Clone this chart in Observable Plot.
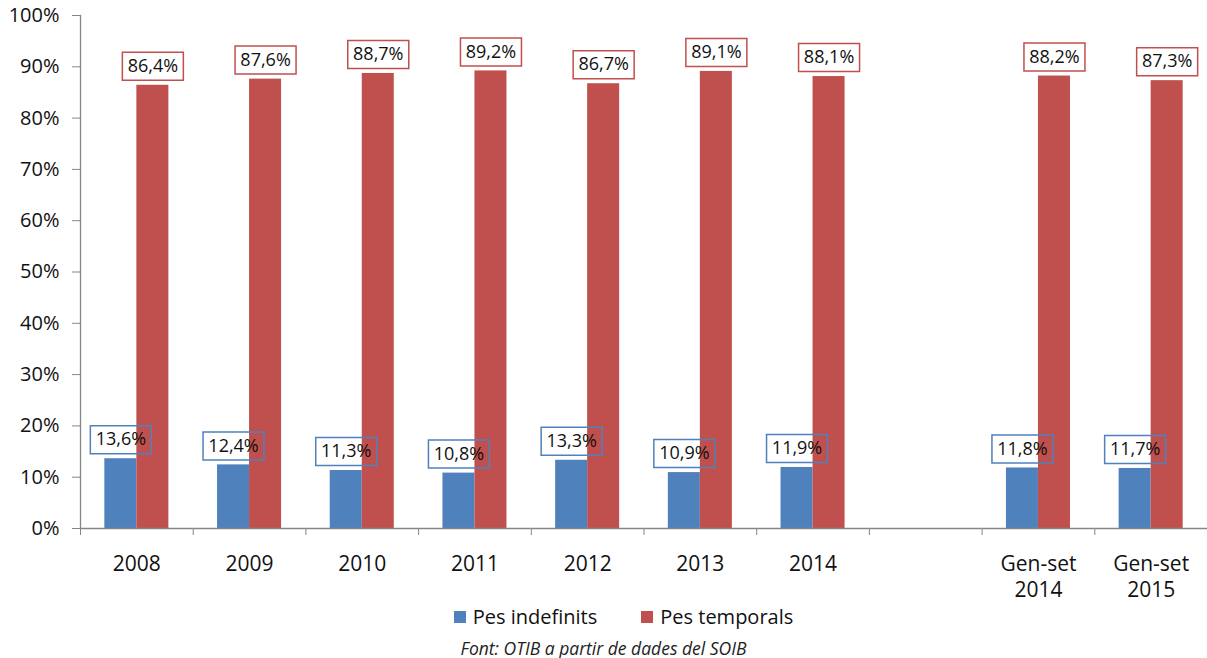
<!DOCTYPE html>
<html>
<head>
<meta charset="utf-8">
<script src="https://cdn.jsdelivr.net/npm/d3@7"></script>
<script src="https://cdn.jsdelivr.net/npm/@observablehq/plot@0.6"></script>
<style>
  body { margin: 0; background: #fff; font-family: "Open Sans", sans-serif; }
  #legend { margin-top: 0px; height: 22px; line-height: 22px; display: flex; justify-content: center; padding-left: 40px; font-size: 20px; color: #111; }
  #legend .item { display: flex; align-items: center; margin: 0 22px; }
  #legend .sw { width: 12px; height: 12px; margin-right: 7px; }
  #caption { margin-top: 9px; height: 22px; line-height: 22px; text-align: center; font-style: italic; font-size: 17.5px; color: #222; }
</style>
</head>
<body>
<div id="chart"></div>
<div id="legend"></div>
<div id="caption">Font: OTIB a partir de dades del SOIB</div>
<script>
const categories = ["2008", "2009", "2010", "2011", "2012", "2013", "2014", " ", "Gen-set\n2014", "Gen-set\n2015"];
const series = ["Pes indefinits", "Pes temporals"];
const indefinits = [13.6, 12.4, 11.3, 10.8, 13.3, 10.9, 11.9, NaN, 11.8, 11.7];
const temporals = [86.4, 87.6, 88.7, 89.2, 86.7, 89.1, 88.1, NaN, 88.2, 87.3];
const yTicks = [0, 10, 20, 30, 40, 50, 60, 70, 80, 90, 100];
const colors = ["#4F81BD", "#C0504D"];

// the blank category keeps NaN rows so that its facet is not treated as empty
const rows = [];
categories.forEach((c, i) => {
  rows.push({cat: c, serie: series[0], value: indefinits[i]});
  rows.push({cat: c, serie: series[1], value: temporals[i]});
});
const fmt = v => (isFinite(v) ? v.toFixed(1).replace(".", ",") + "%" : "");

const W = 1207, H = 606, mL = 80, mR = 0, mT = 15, mB = 78;
const step = (W - mL - mR) / categories.length;

const boxSymbol = {
  draw(ctx) {
    ctx.moveTo(-30.5, -14); ctx.lineTo(30.5, -14); ctx.lineTo(30.5, 14); ctx.lineTo(-30.5, 14); ctx.closePath();
  }
};

const chart = Plot.plot({
  width: W, height: H,
  marginLeft: mL, marginRight: mR, marginTop: mT, marginBottom: mB,
  style: {fontFamily: "Open Sans", background: "#fff", color: "#111", overflow: "visible"},
  fx: {domain: categories, padding: 0, round: false, axis: null, label: null},
  x: {domain: series, paddingInner: 0, paddingOuter: 0.76, round: false, axis: null},
  y: {domain: [0, 100], axis: null, label: null},
  color: {domain: series, range: colors},
  marks: [
    Plot.barY(rows, {fx: "cat", x: "serie", y: "value", fill: "serie"}),
    Plot.ruleY([0], {stroke: "#868686", strokeWidth: 1.3}),
    Plot.frame({anchor: "left", facetAnchor: "left", stroke: "#868686", strokeWidth: 1.3}),
    Plot.axisY({ticks: yTicks, tickFormat: d => d + "%", tickSize: 8, tickPadding: 13, fontSize: 20, stroke: "#868686", fill: "#111", label: null}),
    Plot.axisFx({anchor: "bottom", tickSize: 0, tickPadding: 24, fontSize: 21, lineHeight: 1.25, fill: "#111", label: null}),
    Plot.axisFx({anchor: "bottom", tickSize: 7, tickFormat: () => "", dx: -step / 2, stroke: "#868686", label: null}),
    Plot.dot(rows, {fx: "cat", x: "serie", y: "value", dy: -19, r: 1, symbol: boxSymbol, stroke: "serie", fill: "none", strokeWidth: 1.5}),
    Plot.text(rows, {fx: "cat", x: "serie", y: "value", dy: -19, text: d => fmt(d.value), fontSize: 18, fill: "#111", lineAnchor: "middle"})
  ]
});
document.getElementById("chart").appendChild(chart);

const legend = document.getElementById("legend");
series.forEach((s, i) => {
  const it = document.createElement("div");
  it.className = "item";
  const sw = document.createElement("span");
  sw.className = "sw";
  sw.style.background = colors[i];
  it.appendChild(sw);
  it.appendChild(document.createTextNode(s));
  legend.appendChild(it);
});
</script>
</body>
</html>
